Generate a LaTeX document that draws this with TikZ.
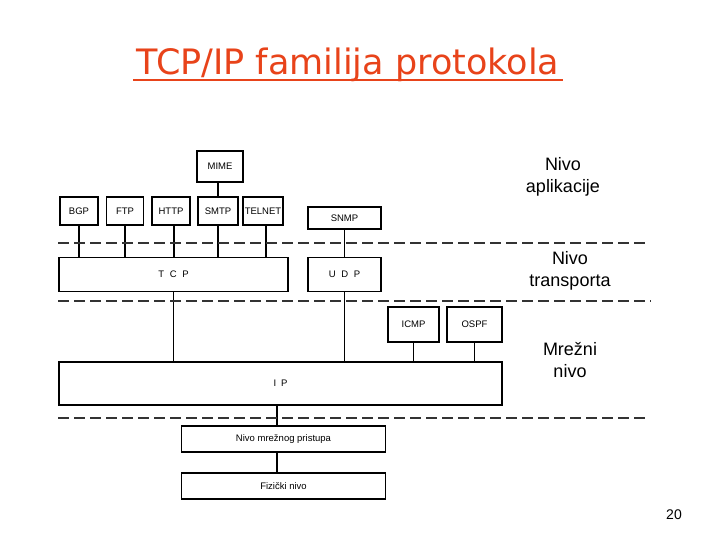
\documentclass[tikz,border=0pt]{standalone}
\usepackage{fontspec}
\setmainfont{Liberation Sans}
\newfontfamily\titlefont{DejaVu Sans}
\definecolor{titlered}{HTML}{E8431A}
\begin{document}
\begin{tikzpicture}[x=1pt,y=-1pt,
  box/.style={draw=black,line width=1.1pt,inner sep=0pt,font=\fontsize{9.5}{10}\selectfont},
  link/.style={draw=black,line width=1.1pt},
  sep/.style={draw=black!80,line width=1.8pt,dash pattern=on 11pt off 5pt},
  lay/.style={font=\fontsize{18}{22}\selectfont,align=center}]
\useasboundingbox (0,0) rectangle (720,540);
% title
\node[text=titlered,font=\titlefont\fontsize{35}{40}\selectfont,anchor=base,inner sep=0pt] (title) at (348,75) {TCP/IP familija protokola};
\draw[titlered,line width=2pt] (133,80) -- (563,80);
% boxes
\node[box,minimum width=46,minimum height=31] (mime) at (220,166.5) {MIME};
\node[box,minimum width=38,minimum height=28] (bgp) at (79,211) {BGP};
\node[box,minimum width=37,minimum height=28] (ftp) at (125,211) {FTP};
\node[box,minimum width=38,minimum height=28] (http) at (171,211) {HTTP};
\node[box,minimum width=40,minimum height=28] (smtp) at (218,211) {SMTP};
\node[box,minimum width=40,minimum height=28] (telnet) at (263,211) {TELNET};
\node[box,minimum width=73,minimum height=22] (snmp) at (344.5,218) {SNMP};
\node[box,minimum width=229,minimum height=34] (tcp) at (173.5,274.5) {T\hspace{0.6em}C\hspace{0.6em}P};
\node[box,minimum width=73,minimum height=34] (udp) at (344.5,274.5) {U\hspace{0.6em}D\hspace{0.6em}P};
\node[box,minimum width=51,minimum height=35] (icmp) at (413.5,324.5) {ICMP};
\node[box,minimum width=55,minimum height=35] (ospf) at (474.5,324.5) {OSPF};
\node[box,minimum width=443,minimum height=43] (ip) at (280.5,383.5) {I\hspace{0.5em}P};
\node[box,minimum width=204,minimum height=26] (nmp) at (283.5,439) {Nivo mrežnog pristupa};
\node[box,minimum width=204,minimum height=26] (fiz) at (283.5,486) {Fizički nivo};
% connectors
\draw[link] (smtp.north |- mime.south) -- (smtp.north);
\draw[link] (bgp.south) -- (bgp.south |- tcp.north);
\draw[link] (ftp.south) -- (ftp.south |- tcp.north);
\draw[link] ([xshift=3pt]http.south) -- ([xshift=3pt]http.south |- tcp.north);
\draw[link] (smtp.south) -- (smtp.south |- tcp.north);
\draw[link] ([xshift=3pt]telnet.south) -- ([xshift=3pt]telnet.south |- tcp.north);
\draw[link] (snmp) -- (udp);
\draw[link] (tcp.south) -- (tcp.south |- ip.north);
\draw[link] (udp) -- (udp |- ip.north);
\draw[link] (icmp) -- (icmp |- ip.north);
\draw[link] (ospf) -- (ospf |- ip.north);
\draw[link] ([xshift=-6.5pt]nmp.north |- ip.south) -- ([xshift=-6.5pt]nmp.north);
\draw[link] ([xshift=-6.5pt]nmp.south) -- ([xshift=-6.5pt]fiz.north);
% separators
\coordinate (s1a) at (58,243); \coordinate (s1b) at (645,243);
\coordinate (s2a) at (58,301); \coordinate (s2b) at (651,301);
\coordinate (s3a) at (58,418); \coordinate (s3b) at (645,418);
\draw[sep] (s1a) -- (s1b);
\draw[sep] (s2a) -- (s2b);
\draw[sep] (s3a) -- (s3b);
% layer labels
\node[lay] (l1) at (563,177) {Nivo\\aplikacije};
\node[lay] (l2) at (570,271) {Nivo\\transporta};
\node[lay] (l3) at (570,360) {Mrežni\\nivo};
% page number
\node[font=\fontsize{14}{16}\selectfont] (pg) at (674,515) {20};
\end{tikzpicture}
\end{document}
